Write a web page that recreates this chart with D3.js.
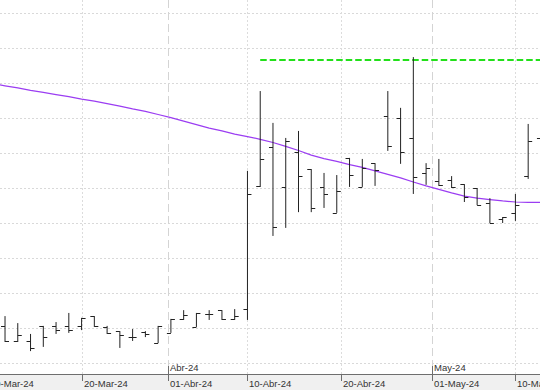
<!DOCTYPE html>
<html>
<head>
<meta charset="utf-8">
<script src="https://cdn.jsdelivr.net/npm/d3@7"></script>
<style>
    html, body { margin: 0; padding: 0; background: #fff; }
    svg { display: block; }
    text { font-family: "Liberation Sans", Arial, sans-serif; }
</style>
</head>
<body>
<div id="chart"></div>
<script>
var W = 540, H = 390;

// trading days on the x axis (two leading days only carry the average)
var days = ["2024-03-08","2024-03-11",
    "2024-03-12","2024-03-13","2024-03-14","2024-03-15","2024-03-18","2024-03-19","2024-03-20",
    "2024-03-21","2024-03-22","2024-03-25","2024-03-26","2024-03-27","2024-03-28",
    "2024-04-02","2024-04-03","2024-04-04","2024-04-05","2024-04-08","2024-04-09","2024-04-10",
    "2024-04-11","2024-04-12","2024-04-15","2024-04-16","2024-04-17","2024-04-18","2024-04-19",
    "2024-04-22","2024-04-23","2024-04-24","2024-04-25","2024-04-26","2024-04-29","2024-04-30",
    "2024-05-02","2024-05-03","2024-05-06","2024-05-07","2024-05-08","2024-05-09","2024-05-10",
    "2024-05-13","2024-05-14"];

var barDays = days.slice(2);
var open  = [21.06,20.63,20.63,21.06,21.06,21.06,21.06,21.34,21.03,20.91,20.74,20.89,20.57,
             20.86,21.26,21.03,21.40,21.51,21.26,21.54,25.06,26.17,25.03,26.03,25.54,25.03,24.29,
             25.86,25.03,25.71,27.06,27.00,26.43,25.43,25.20,25.23,25.11,25.00,24.57,24.11,24.29,
             25.34,26.43];
var high  = [21.34,21.14,20.83,21.06,21.17,21.43,21.29,21.34,21.06,20.91,20.97,20.91,21.06,
             21.26,21.51,21.43,21.51,21.51,21.54,25.49,27.77,26.86,26.43,26.63,25.54,25.43,25.37,
             25.86,25.83,25.71,27.77,27.29,28.74,25.71,25.83,25.34,25.11,25.00,24.71,24.17,24.83,
             26.83,26.66];
var low   = [20.60,20.60,20.34,20.46,20.83,20.86,20.94,21.03,20.83,20.43,20.63,20.74,20.57,
             20.86,21.23,21.03,21.23,21.23,21.23,21.23,25.03,23.63,23.86,24.31,24.31,24.43,24.29,
             25.03,25.03,25.06,26.06,25.69,24.83,25.09,25.06,25.00,24.60,24.51,24.00,24.00,24.06,
             25.26,26.09];
var close = [20.63,20.80,20.43,20.74,20.94,20.94,21.29,21.06,20.86,20.80,20.74,20.83,21.06,
             21.26,21.37,21.43,21.40,21.26,21.34,24.83,25.83,23.89,26.34,25.34,24.43,24.83,24.91,
             25.37,25.57,25.51,26.20,26.03,25.31,25.57,25.09,25.03,24.74,24.51,24.00,24.17,24.51,
             26.34,26.37];

// moving average, one value per day in `days`
var avg = [28.04,27.98,
    27.92,27.86,27.79,27.73,27.67,27.61,27.54,27.48,27.41,27.34,27.26,27.19,27.10,
    27.01,26.91,26.81,26.71,26.63,26.54,26.47,26.39,26.30,26.19,26.07,25.94,25.84,25.76,
    25.67,25.59,25.49,25.39,25.29,25.17,25.06,24.96,24.86,24.77,24.71,24.67,24.63,24.60,
    24.59,24.59];

// resistance level
var levelValue = 28.66;
var levelStart = "2024-04-11";

var tickDates  = ["2024-03-10","2024-03-20","2024-04-01","2024-04-10","2024-04-20","2024-05-01","2024-05-10"];
var tickLabels = ["10-Mar-24","20-Mar-24","01-Abr-24","10-Abr-24","20-Abr-24","01-May-24","10-May-24"];
var monthDates  = ["2024-04-01","2024-05-01"];
var monthLabels = ["Abr-24","May-24"];

var parse = d3.timeParse("%Y-%m-%d");
var axisY = 374;

var svg = d3.select("#chart").append("svg")
    .attr("width", W)
    .attr("height", H);

svg.append("rect")
    .attr("width", W).attr("height", H)
    .style("fill", "#fff");

var step = 12.76;
var idx = d3.scaleLinear().domain([0, days.length - 1]).range([-20.5, -20.5 + (days.length - 1) * step]);
var x = d3.scaleTime()
    .domain(days.map(parse))
    .range(days.map(function(d, i){ return idx(i); }));

var y = d3.scaleLinear().domain([20, 30]).range([363, 13]);

// bottom strip
svg.append("rect")
    .attr("x", 0).attr("y", axisY)
    .attr("width", W).attr("height", H - axisY)
    .style("fill", "#f0f0f0");

var plot = svg.append("g");
plot.append("clipPath").attr("id", "clip")
    .append("rect").attr("width", W).attr("height", axisY);

// horizontal grid
plot.selectAll(".hgrid")
    .data(y.ticks(10))
    .enter().append("line")
    .attr("class", "hgrid")
    .attr("x1", 0).attr("x2", W)
    .attr("y1", function(d){ return Math.round(y(d)) + 0.5; })
    .attr("y2", function(d){ return Math.round(y(d)) + 0.5; })
    .style("stroke", "#d9d9d9")
    .style("stroke-dasharray", "2,2");

// vertical grid
plot.selectAll(".vgrid")
    .data(tickDates)
    .enter().append("line")
    .attr("class", "vgrid")
    .attr("x1", function(d){ return Math.round(x(parse(d))) + 0.5; })
    .attr("x2", function(d){ return Math.round(x(parse(d))) + 0.5; })
    .attr("y1", 0).attr("y2", axisY)
    .style("stroke", function(d){ return monthDates.indexOf(d) >= 0 ? "#d4d4d4" : "#dcdcdc"; })
    .style("stroke-dasharray", function(d){ return monthDates.indexOf(d) >= 0 ? "8,4" : "2,2"; });

var g = plot.append("g").attr("clip-path", "url(#clip)");

// moving average
var line = d3.line()
    .x(function(d, i){ return x(parse(days[i])); })
    .y(function(d){ return y(d); });

g.append("path")
    .datum(avg)
    .attr("d", line)
    .style("fill", "none")
    .style("stroke", "#9b3df2")
    .style("stroke-width", 1.2);

// resistance line
g.append("line")
    .attr("x1", x(parse(levelStart)))
    .attr("x2", W)
    .attr("y1", y(levelValue))
    .attr("y2", y(levelValue))
    .style("stroke", "#22e01a")
    .style("stroke-width", 2)
    .style("stroke-dasharray", "6.5,3");

// OHLC bars
var bars = barDays.map(function(d, i){
    return {date: parse(d), o: open[i], h: high[i], l: low[i], c: close[i]};
});

var bar = g.selectAll(".bar")
    .data(bars)
    .enter().append("g")
    .attr("class", "bar");

bar.append("line")
    .attr("x1", function(d){ return x(d.date); })
    .attr("x2", function(d){ return x(d.date); })
    .attr("y1", function(d){ return y(d.h); })
    .attr("y2", function(d){ return y(d.l); })
    .style("stroke", "#222");

bar.append("line")
    .attr("x1", function(d){ return x(d.date) - 4; })
    .attr("x2", function(d){ return x(d.date); })
    .attr("y1", function(d){ return Math.round(y(d.o)) + 0.5; })
    .attr("y2", function(d){ return Math.round(y(d.o)) + 0.5; })
    .style("stroke", "#222");

bar.append("line")
    .attr("x1", function(d){ return x(d.date); })
    .attr("x2", function(d){ return x(d.date) + 4; })
    .attr("y1", function(d){ return Math.round(y(d.c)) + 0.5; })
    .attr("y2", function(d){ return Math.round(y(d.c)) + 0.5; })
    .style("stroke", "#222");

// x axis
svg.append("line")
    .attr("x1", 0).attr("x2", W)
    .attr("y1", axisY + 0.5).attr("y2", axisY + 0.5)
    .style("stroke", "#6e6e6e");

var ticks = svg.selectAll(".tick")
    .data(tickDates)
    .enter().append("g")
    .attr("class", "tick")
    .attr("transform", function(d){ return "translate(" + (Math.round(x(parse(d))) + 0.5) + ",0)"; });

ticks.append("line")
    .attr("y1", function(d){ return monthDates.indexOf(d) >= 0 ? 366 : axisY; })
    .attr("y2", 381)
    .style("stroke", "#6e6e6e");

ticks.append("text")
    .attr("x", 1.5)
    .attr("y", 387)
    .style("font-size", "9.5px")
    .style("fill", "#333")
    .text(function(d, i){ return tickLabels[i]; });

svg.selectAll(".month")
    .data(monthDates)
    .enter().append("text")
    .attr("class", "month")
    .attr("x", function(d){ return Math.round(x(parse(d))) + 2; })
    .attr("y", 371)
    .style("font-size", "9.5px")
    .style("fill", "#333")
    .text(function(d, i){ return monthLabels[i]; });
</script>
</body>
</html>
